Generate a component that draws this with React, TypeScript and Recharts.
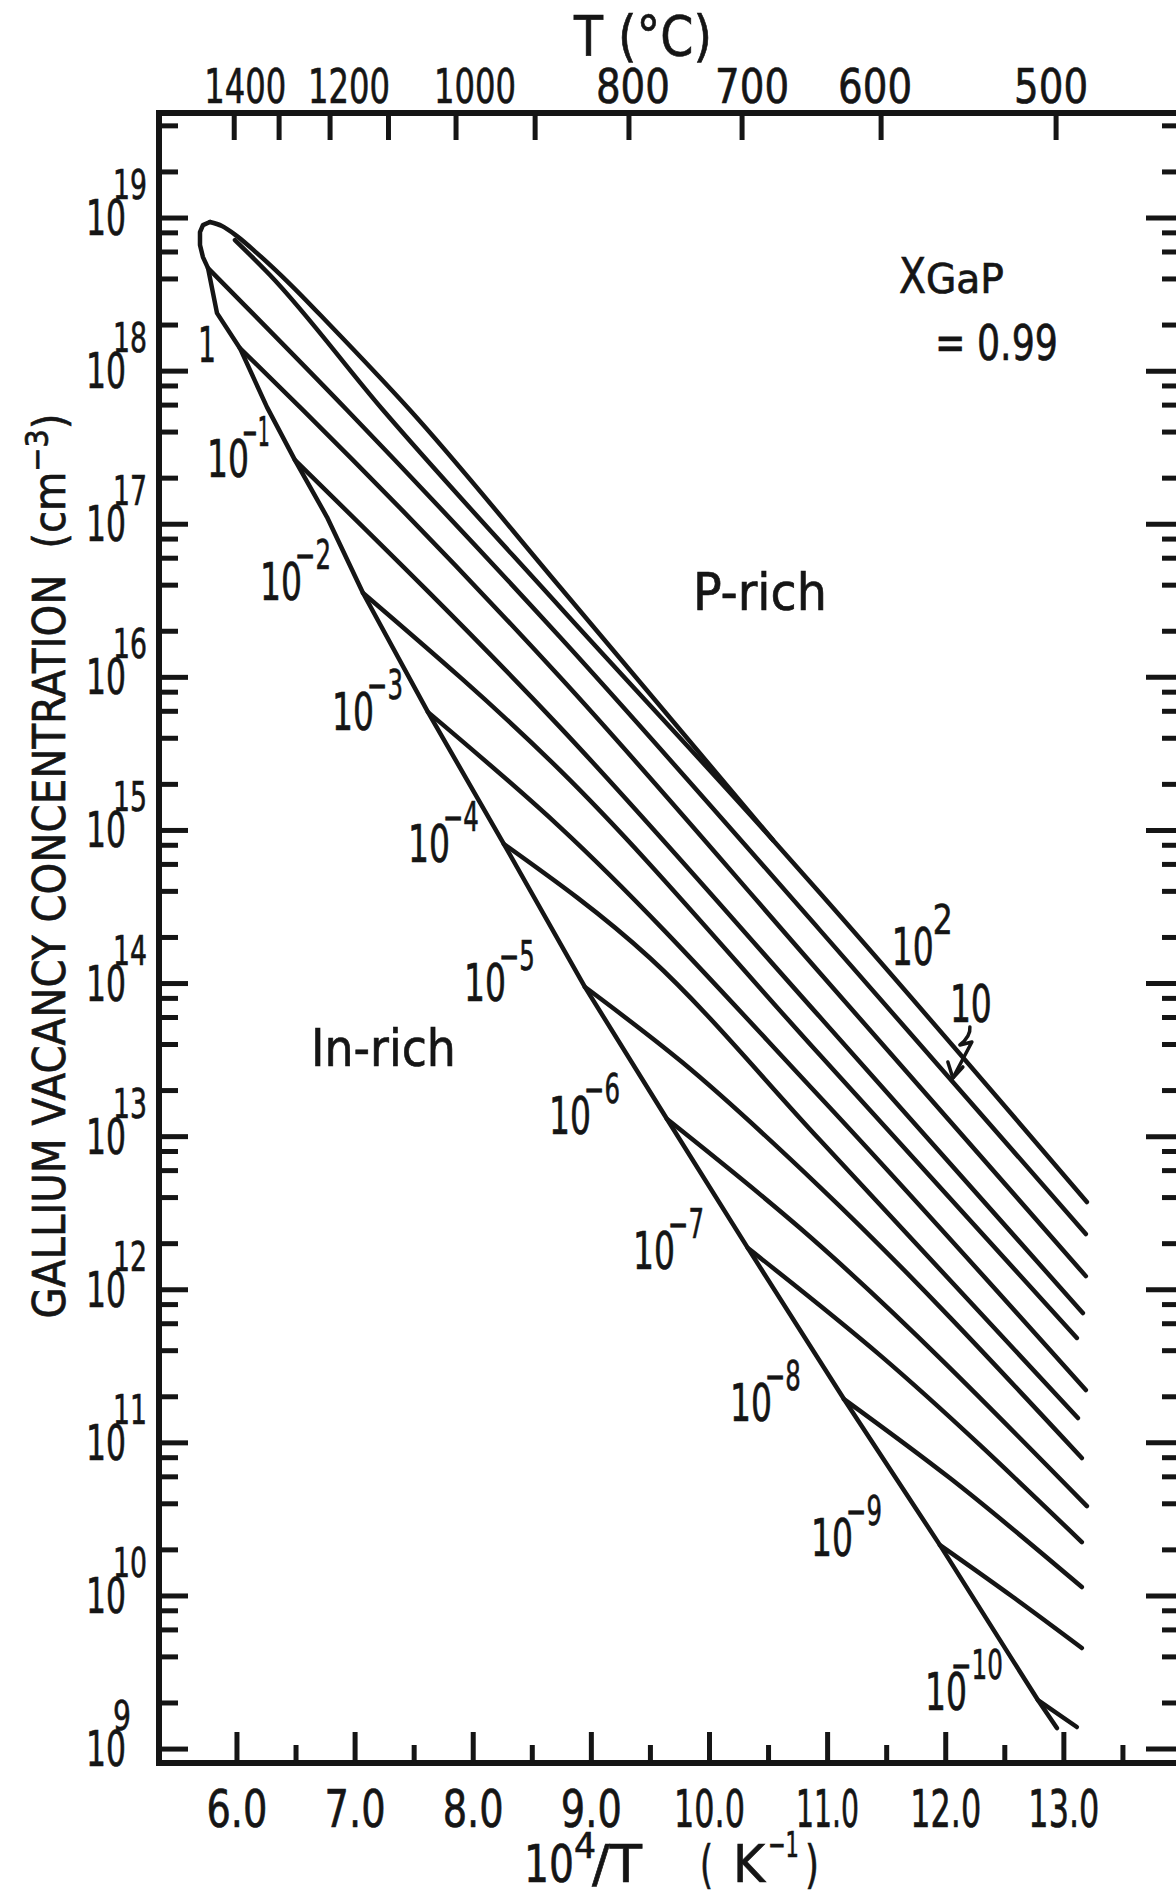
import React from 'react';
import { LineChart, Line, XAxis, YAxis, ReferenceDot } from 'recharts';

const FONT = "'DejaVu Sans', 'Liberation Sans', sans-serif";
const INK = '#151515';

// ---- axis ranges & ticks ----
const X_MIN = 5.34;
const X_MAX = 14.0;
const LOG_MIN = 8.909;
const LOG_MAX = 19.686;

const X_TICKS = [6.0, 6.5, 7.0, 7.5, 8.0, 8.5, 9.0, 9.5, 10.0, 10.5, 11.0, 11.5, 12.0, 12.5, 13.0, 13.5];
const T_TICKS_C = [1400, 1300, 1200, 1100, 1000, 900, 800, 700, 600, 500];
const T_LABELS_C = [1400, 1200, 1000, 800, 700, 600, 500];
// small hand-lettering offsets of the top labels (px)
const T_LABEL_DX: Record<number, number> = { 1400: 11, 1200: 19, 1000: 19, 800: 4, 700: 10, 600: -6, 500: -5 };
const Y_DECADES = [9, 10, 11, 12, 13, 14, 15, 16, 17, 18, 19];
const Y_MANTISSAS = [1, 2, 4, 6, 8];

// ---- curves: [10^4/T (K^-1), log10 of vacancy concentration (cm^-3)] ----
const P_RICH_EDGE = [
  [5.771, 18.974], [5.873, 18.948], [6.0, 18.882], [6.169, 18.771], [6.449, 18.569],
  [6.787, 18.301], [7.464, 17.746], [8.734, 16.59], [10.537, 14.937],
];
const IN_RICH_EDGE = [
  [5.771, 18.974], [5.712, 18.954], [5.687, 18.908], [5.687, 18.824], [5.712, 18.745],
  [5.755, 18.673], [5.831, 18.379], [6.025, 18.15], [6.254, 17.765], [6.491, 17.419],
  [6.762, 17.047], [7.067, 16.551], [7.617, 15.773], [8.26, 14.911], [8.946, 13.977],
  [9.64, 13.115], [10.325, 12.272], [11.138, 11.286], [11.951, 10.332], [12.78, 9.32],
  [12.941, 9.137],
];
const P_1E2 = [[5.983, 18.856], [6.279, 18.628], [7.236, 17.746], [8.734, 16.459], [10.537, 14.937], [10.935, 14.591], [13.195, 12.573]];
const P_1E1 = [[5.755, 18.673], [6.931, 17.746], [8.734, 16.263], [10.935, 14.349], [13.186, 12.364]];
const P_1E0 = [[6.025, 18.15], [6.559, 17.746], [8.734, 16.002], [10.935, 14.069], [13.186, 12.089]];
const P_1EM1 = [[6.491, 17.419], [8.734, 15.675], [10.935, 13.781], [13.161, 11.848]];
const P_1EM2 = [[7.067, 16.551], [8.734, 15.394], [10.935, 13.533], [13.11, 11.685]];
const P_1EM3 = [[7.617, 15.773], [8.734, 15.022], [10.935, 13.259], [13.186, 11.345]];
const P_1EM4 = [[8.26, 14.911], [9.496, 14.167], [10.935, 12.978], [13.119, 11.162]];
const P_1EM5 = [[8.946, 13.977], [9.767, 13.487], [10.935, 12.671], [13.152, 10.901]];
const P_1EM6 = [[9.64, 13.115], [10.766, 12.403], [13.195, 10.587]];
const P_1EM7 = [[10.325, 12.272], [11.443, 11.573], [13.152, 10.352]];
const P_1EM8 = [[11.138, 11.286], [12.035, 10.77], [13.152, 10.058]];
const P_1EM9 = [[11.951, 10.332], [12.569, 9.993], [13.152, 9.66]];
const P_1EM10 = [[12.78, 9.32], [13.11, 9.144]];

const CURVES = [
  { id: 'prich', pts: P_RICH_EDGE, type: 'monotone' },
  { id: 'inrich', pts: IN_RICH_EDGE, type: 'linear' },
  { id: 'p2', pts: P_1E2, type: 'monotone' },
  { id: 'p1', pts: P_1E1, type: 'monotone' },
  { id: 'p0', pts: P_1E0, type: 'monotone' },
  { id: 'm1', pts: P_1EM1, type: 'monotone' },
  { id: 'm2', pts: P_1EM2, type: 'monotone' },
  { id: 'm3', pts: P_1EM3, type: 'monotone' },
  { id: 'm4', pts: P_1EM4, type: 'monotone' },
  { id: 'm5', pts: P_1EM5, type: 'monotone' },
  { id: 'm6', pts: P_1EM6, type: 'monotone' },
  { id: 'm7', pts: P_1EM7, type: 'monotone' },
  { id: 'm8', pts: P_1EM8, type: 'monotone' },
  { id: 'm9', pts: P_1EM9, type: 'monotone' },
  { id: 'm10', pts: P_1EM10, type: 'linear' },
];

// ---- curve labels (anchor: left end of baseline of the "10"), in data coordinates ----
const CURVE_LABELS = [
  { x: 5.67, e: 18.059, base: '1', exp: '' },
  { x: 5.746, e: 17.308, base: '10', exp: '−1' },
  { x: 6.195, e: 16.505, base: '10', exp: '−2' },
  { x: 6.804, e: 15.656, base: '10', exp: '−3' },
  { x: 7.447, e: 14.794, base: '10', exp: '−4' },
  { x: 7.921, e: 13.886, base: '10', exp: '−5' },
  { x: 8.641, e: 13.017, base: '10', exp: '−6' },
  { x: 9.352, e: 12.135, base: '10', exp: '−7' },
  { x: 10.173, e: 11.142, base: '10', exp: '−8' },
  { x: 10.859, e: 10.261, base: '10', exp: '−9' },
  { x: 11.824, e: 9.255, base: '10', exp: '−10' },
  { x: 11.544, e: 14.121, base: '10', exp: '2' },
  { x: 12.035, e: 13.749, base: '10', exp: '', arrow: true },
];

const REGION_LABELS = [
  { x: 9.86, e: 16.44, text: 'P-rich', w: 134 },
  { x: 6.626, e: 13.461, text: 'In-rich', w: 145 },
];

const toX = (c: number) => 1e4 / (c + 273.15);

const Y_TICKS: number[] = [];
Y_DECADES.forEach((d) =>
  Y_MANTISSAS.forEach((m) => {
    const v = m * Math.pow(10, d);
    const lg = Math.log10(v);
    if (lg >= LOG_MIN - 1e-9 && lg <= LOG_MAX) Y_TICKS.push(v);
  })
);

function Txt({ x, y, size, w, anchor = 'start', children }: any) {
  return (
    <text
      x={x}
      y={y}
      fontFamily={FONT}
      fontSize={size}
      textAnchor={anchor}
      textLength={w}
      lengthAdjust="spacingAndGlyphs"
      fill={INK}
      stroke={INK}
      strokeWidth={0.7}
    >
      {children}
    </text>
  );
}

const BottomTick = (props: any) => {
  const { x, y, payload } = props;
  const v = payload.value;
  const major = Math.abs(v - Math.round(v)) < 1e-6;
  const label = v.toFixed(1);
  return (
    <g>
      <line x1={x} x2={x} y1={y} y2={y - (major ? 31 : 18)} stroke={INK} strokeWidth={5} />
      {major && (
        <Txt x={x} y={y + 64} size={51} w={label.length === 3 ? 61 : label === '11.0' ? 63 : 71} anchor="middle">
          {label}
        </Txt>
      )}
    </g>
  );
};

const TopTick = (props: any) => {
  const { x, y, payload } = props;
  const c = Math.round((1e4 / payload.value - 273.15) / 100) * 100;
  const show = T_LABELS_C.includes(c);
  const label = String(c);
  return (
    <g>
      <line x1={x} x2={x} y1={y} y2={y + 27} stroke={INK} strokeWidth={5} />
      {show && (
        <Txt x={x + (T_LABEL_DX[c] || 0)} y={y - 10} size={48} w={label.length === 4 ? 82 : 74} anchor="middle">
          {label}
        </Txt>
      )}
    </g>
  );
};

const tickInfo = (v: number) => {
  const lg = Math.log10(v);
  const n = Math.round(lg);
  return { n, major: Math.abs(lg - n) < 1e-6 };
};

const LeftTick = (props: any) => {
  const { x, y, payload } = props;
  const { n, major } = tickInfo(payload.value);
  const s = String(n);
  return (
    <g>
      <line x1={x} x2={x + (major ? 29 : 19)} y1={y} y2={y} stroke={INK} strokeWidth={5} />
      {major && (
        <g>
          <Txt x={x - 33} y={y + 17} size={49} w={40} anchor="end">10</Txt>
          <Txt x={x - 46} y={y - 19} size={41} w={s.length === 1 ? 18 : 34}>{s}</Txt>
        </g>
      )}
    </g>
  );
};

const RightTick = (props: any) => {
  const { x, y, payload } = props;
  const { major } = tickInfo(payload.value);
  return <line x1={x} x2={x - (major ? 36 : 20)} y1={y} y2={y} stroke={INK} strokeWidth={5} />;
};

const expWidth = (exp: string) => (exp === '−10' ? 52 : exp === '−1' ? 28 : exp === '2' ? 20 : 36);
const expOffset = (exp: string) => (exp === '−10' ? 26 : exp.startsWith('−') ? 35 : 41);

const CurveLabel = ({ cx, cy, lab }: any) => {
  if (cx == null || cy == null) return null;
  if (lab.base === '1') {
    return <Txt x={cx} y={cy} size={50} w={18}>1</Txt>;
  }
  return (
    <g>
      <Txt x={cx} y={cy} size={51} w={42}>10</Txt>
      {lab.exp && (
        <Txt x={cx + expOffset(lab.exp)} y={cy - 31} size={40} w={expWidth(lab.exp)}>
          {lab.exp}
        </Txt>
      )}
      {lab.arrow && (
        <g fill="none" stroke={INK} strokeWidth={3.5} strokeLinecap="round" strokeLinejoin="round">
          <path d={`M ${cx + 20} ${cy + 5} Q ${cx + 21} ${cy + 14} ${cx + 10} ${cy + 23} L ${cx + 22} ${cy + 20} L ${cx + 3} ${cy + 56}`} />
          <path d={`M ${cx - 2} ${cy + 40} L ${cx + 3} ${cy + 56} L ${cx + 13} ${cy + 45}`} />
        </g>
      )}
    </g>
  );
};

const RegionLabel = ({ cx, cy, lab }: any) => {
  if (cx == null || cy == null) return null;
  return <Txt x={cx} y={cy} size={52} w={lab.w}>{lab.text}</Txt>;
};

const XgapLabel = ({ cx, cy }: any) => {
  if (cx == null || cy == null) return null;
  return (
    <g>
      <Txt x={cx} y={cy} size={50} w={27}>X</Txt>
      <Txt x={cx + 27} y={cy} size={40} w={78}>GaP</Txt>
      <Txt x={cx + 36} y={cy + 67} size={50} w={123}>= 0.99</Txt>
    </g>
  );
};

export default function App() {
  const axisLine = { stroke: INK, strokeWidth: 6, strokeLinecap: 'square' as const };
  return (
    <div
      style={{
        position: 'fixed',
        left: 0,
        top: 0,
        width: 1176,
        height: 1891,
        overflow: 'hidden',
        background: '#fff',
      }}
    >
      <LineChart width={1200} height={1891} margin={{ top: 112, right: 17, bottom: 127, left: 158 }}>
        <XAxis
          xAxisId="b"
          dataKey="x"
          type="number"
          orientation="bottom"
          domain={[X_MIN, X_MAX]}
          allowDataOverflow
          ticks={X_TICKS}
          interval={0}
          tickSize={0}
          tickMargin={0}
          tickLine={false}
          tick={BottomTick}
          axisLine={axisLine}
          height={1}
        />
        <XAxis
          xAxisId="t"
          dataKey="x"
          type="number"
          orientation="top"
          domain={[X_MIN, X_MAX]}
          allowDataOverflow
          ticks={T_TICKS_C.map(toX)}
          interval={0}
          tickSize={0}
          tickMargin={0}
          tickLine={false}
          tick={TopTick}
          axisLine={axisLine}
          height={1}
        />
        <YAxis
          yAxisId="l"
          type="number"
          scale="log"
          domain={[Math.pow(10, LOG_MIN), Math.pow(10, LOG_MAX)]}
          allowDataOverflow
          ticks={Y_TICKS}
          interval={0}
          tickSize={0}
          tickMargin={0}
          tickLine={false}
          tick={LeftTick}
          axisLine={axisLine}
          width={1}
        />
        <YAxis
          yAxisId="r"
          orientation="right"
          type="number"
          scale="log"
          domain={[Math.pow(10, LOG_MIN), Math.pow(10, LOG_MAX)]}
          allowDataOverflow
          ticks={Y_TICKS}
          interval={0}
          tickSize={0}
          tickMargin={0}
          tickLine={false}
          tick={RightTick}
          axisLine={axisLine}
          width={1}
        />
        {CURVES.map((c) => (
          <Line
            key={c.id}
            xAxisId="b"
            yAxisId="l"
            data={c.pts.map(([x, e]) => ({ x, y: Math.pow(10, e) }))}
            dataKey="y"
            type={c.type as any}
            stroke={INK}
            strokeWidth={4.5}
            strokeLinecap="round"
            strokeLinejoin="round"
            dot={false}
            activeDot={false}
            isAnimationActive={false}
          />
        ))}
        {CURVE_LABELS.map((lab, i) => (
          <ReferenceDot
            key={'cl' + i}
            xAxisId="b"
            yAxisId="l"
            x={lab.x}
            y={Math.pow(10, lab.e)}
            r={1}
            ifOverflow="visible"
            shape={(p: any) => <CurveLabel cx={p.cx} cy={p.cy} lab={lab} />}
          />
        ))}
        {REGION_LABELS.map((lab, i) => (
          <ReferenceDot
            key={'rl' + i}
            xAxisId="b"
            yAxisId="l"
            x={lab.x}
            y={Math.pow(10, lab.e)}
            r={1}
            ifOverflow="visible"
            shape={(p: any) => <RegionLabel cx={p.cx} cy={p.cy} lab={lab} />}
          />
        ))}
        <ReferenceDot
          xAxisId="b"
          yAxisId="l"
          x={11.604}
          y={Math.pow(10, 18.51)}
          r={1}
          ifOverflow="visible"
          shape={(p: any) => <XgapLabel cx={p.cx} cy={p.cy} />}
        />
      </LineChart>
      <svg
        width={1176}
        height={1891}
        style={{ position: 'absolute', left: 0, top: 0, pointerEvents: 'none' }}
      >
        {/* top axis title */}
        <Txt x={574} y={55} size={55} w={138}>T (°C)</Txt>
        {/* bottom axis title */}
        <Txt x={524} y={1882} size={52} w={50}>10</Txt>
        <Txt x={574} y={1858} size={36} w={22}>4</Txt>
        <Txt x={592} y={1882} size={52} w={50}>/T</Txt>
        <Txt x={700} y={1882} size={52} w={13}>(</Txt>
        <Txt x={733} y={1882} size={52} w={32}>K</Txt>
        <Txt x={768} y={1857} size={36} w={31}>−1</Txt>
        <Txt x={805} y={1882} size={52} w={14}>)</Txt>
        {/* left axis title */}
        <g transform="translate(65, 866) rotate(-90)">
          <text
            x={0}
            y={0}
            fontFamily={FONT}
            fontSize={45}
            textAnchor="middle"
            textLength={905}
            lengthAdjust="spacingAndGlyphs"
            fill={INK}
            stroke={INK}
            strokeWidth={0.7}
          >
            GALLIUM VACANCY CONCENTRATION{'\u00a0\u00a0'}(cm
            <tspan dy={-17} fontSize={32}>−3</tspan>
            <tspan dy={17}>)</tspan>
          </text>
        </g>
      </svg>
    </div>
  );
}
